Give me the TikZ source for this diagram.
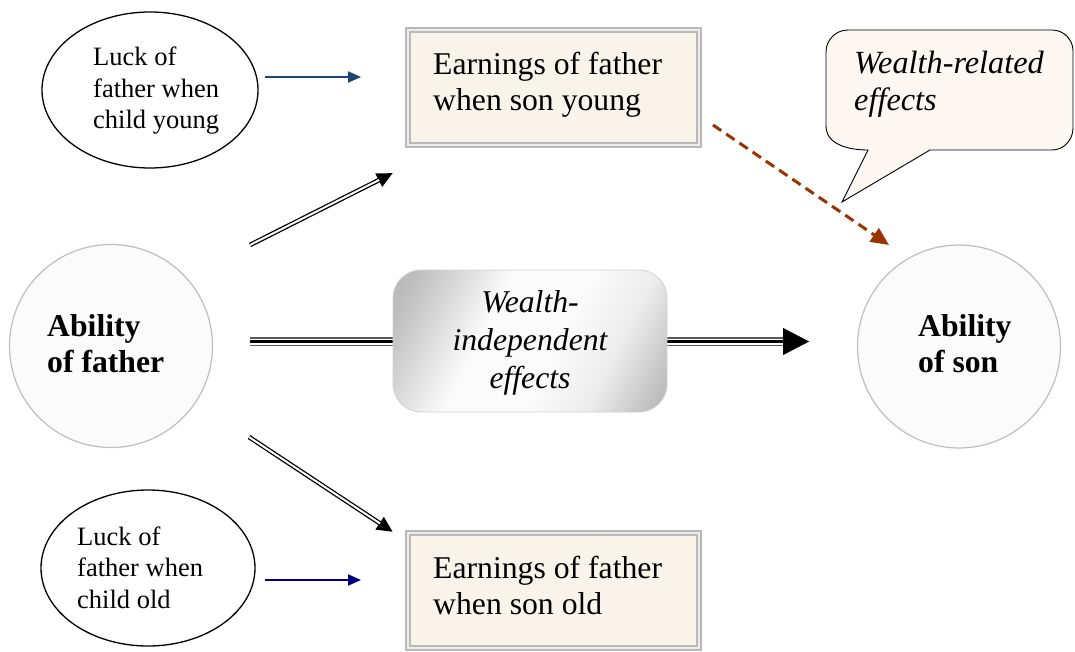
\documentclass[tikz,border=0pt]{standalone}
\usepackage{fontspec}
\setmainfont{Liberation Serif}
\usetikzlibrary{shapes.geometric,arrows.meta}
\definecolor{boxfill}{RGB}{248,244,234}
\definecolor{boxline}{RGB}{185,185,185}
\definecolor{boxgap}{RGB}{236,236,232}
\definecolor{circline}{RGB}{190,190,190}
\definecolor{circfill}{RGB}{251,251,251}
\definecolor{blueA}{RGB}{31,66,120}
\definecolor{blueB}{RGB}{0,0,128}
\definecolor{brownA}{RGB}{153,51,0}
\definecolor{bubblefill}{RGB}{252,248,241}
\definecolor{linegray}{RGB}{90,90,90}
\definecolor{shA}{RGB}{172,172,172}
\definecolor{shB}{RGB}{192,192,192}
\definecolor{shC}{RGB}{251,251,251}
\definecolor{shE}{RGB}{236,236,236}
\definecolor{shD}{RGB}{180,180,180}
\pgfdeclarehorizontalshading{indepsh}{100bp}{color(0bp)=(shA); color(12bp)=(shA); color(22bp)=(shB); color(40bp)=(shC); color(56bp)=(shC); color(68bp)=(shE); color(83bp)=(shD); color(100bp)=(shD)}
\begin{document}
\begin{tikzpicture}[x=1pt,y=-1pt,
  luckell/.style={ellipse,draw=black,line width=1.3pt,inner sep=0pt},
  abilcirc/.style={circle,draw=circline,line width=1.2pt,fill=circfill,inner sep=0pt,minimum size=203pt},
  earnbox/.style={rectangle,draw=boxline,line width=1.6pt,double=boxgap,double distance=2.2pt,fill=boxfill,inner sep=0pt,minimum width=291pt,minimum height=115pt},
  txt/.style={inner sep=0pt,anchor=west,align=left},
  bigtxt/.style={txt,font=\fontsize{31.7}{36}\selectfont},
  smalltxt/.style={txt,font=\fontsize{26.5}{31.5}\selectfont},
  boldtxt/.style={txt,font=\fontsize{31.7}{36}\selectfont\bfseries},
  ittxt/.style={inner sep=0pt,font=\fontsize{31.7}{38}\selectfont\itshape},
  luckarrow/.style={line width=2pt,-{Triangle[length=13pt,width=11pt]}},
  dblblack/.style={line width=4.6pt,-{Triangle[length=16pt,width=14pt]}},
  dblwhite/.style={line width=2pt,white,shorten >=15.5pt},
  wealtharrow/.style={brownA,line width=3pt,dash pattern=on 10pt off 6pt,-{Triangle[length=18pt,width=16pt]}}
]
\useasboundingbox (0,0) rectangle (1075,652);

% ellipses
\node[luckell,minimum width=216pt,minimum height=156pt] (lucky) at (150,90) {};
\node[smalltxt] (luckytxt) at (93,91) {Luck of\\father when\\child young};
\node[luckell,minimum width=214pt,minimum height=156pt] (lucko) at (148,568) {};
\node[smalltxt] (luckotxt) at (77,567.5) {Luck of\\father when\\child old};

% circles
\node[abilcirc] (father) at (111,346) {};
\node[boldtxt] (fathertxt) at (47,344) {Ability\\of father};
\node[abilcirc] (son) at (959,346.5) {};
\node[boldtxt] (sontxt) at (918,343.5) {Ability\\of son};

% earnings boxes
\node[earnbox] (earny) at (553.5,87.5) {};
\node[bigtxt] (earnytxt) at (433,84.6) {Earnings of father\\when son young};
\node[earnbox] (earno) at (553.5,590.5) {};
\node[bigtxt] (earnotxt) at (433,585) {Earnings of father\\when son old};

% luck arrows
\coordinate (ly1) at (265,77); \coordinate (ly2) at (361,77);
\draw[luckarrow,blueA] (ly1) -- (ly2);
\coordinate (lo1) at (265,580); \coordinate (lo2) at (361,580);
\draw[luckarrow,blueB] (lo1) -- (lo2);

% double arrows from father
\coordinate (fu1) at (250,245); \coordinate (fu2) at (393,173);
\draw[dblblack] (fu1) -- (fu2);
\draw[dblwhite] (fu1) -- (fu2);
\coordinate (fd1) at (249,437); \coordinate (fd2) at (393,532);
\draw[dblblack] (fd1) -- (fd2);
\draw[dblwhite] (fd1) -- (fd2);

% triple line
\coordinate (t1) at (250,341.5); \coordinate (t2) at (400,341.5);
\coordinate (t3) at (660,341.5); \coordinate (t4) at (809,341.5);
\foreach \a/\b/\s in {t1/t2/0pt,t3/t4/25pt}{
  \draw[line width=9pt,linegray,shorten >=\s] (\a) -- (\b);
  \draw[line width=6pt,white,shorten >=\s] (\a) -- (\b);
  \draw[line width=3.6pt,black,shorten >=\s] (\a) -- (\b);
}
\draw[line width=0.1pt,-{Triangle[length=26pt,width=27pt]}] (t3) -- (t4);

% wealth-independent box
\node[rectangle,rounded corners=28pt,draw=gray!35,line width=0.8pt,
  shading=indepsh,shading angle=-27,
  minimum width=274pt,minimum height=142pt] (indep) at (530,341) {};
\node[ittxt,align=center] (indeptxt) at (530,342.5) {Wealth-\\independent\\effects};

% dashed wealth arrow
\coordinate (w1) at (713,125); \coordinate (w2) at (889,245);
\draw[wealtharrow] (w1) -- (w2);

% speech bubble
\draw[fill=bubblefill,line width=0.9pt,line join=miter]
  (842,202) -- (868,150) to[out=180,in=-90] (826,126) -- (826,52)
  to[out=90,in=180] (848,30) -- (1052,30) to[out=0,in=90] (1073,51)
  -- (1073,128) to[out=-90,in=0] (1052,150) -- (930,150) -- cycle;
\node[ittxt,anchor=west,align=left,font=\fontsize{32.3}{37}\selectfont\itshape] (bubbletxt) at (854,84) {Wealth-related\\effects};
\end{tikzpicture}
\end{document}
